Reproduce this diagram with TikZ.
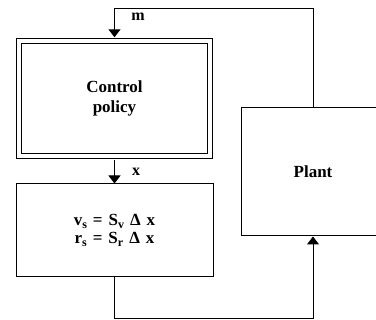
\documentclass[tikz,border=0pt]{standalone}
\usepackage{fontspec}
\setmainfont{Liberation Serif}
\usetikzlibrary{arrows.meta}
\newcommand{\sbs}[1]{\raisebox{-2.2pt}{\fontsize{12}{12}\selectfont #1}}
\begin{document}
\begin{tikzpicture}[x=1pt,y=-1pt,
  box/.style={draw,line width=1pt,rectangle,inner sep=0pt,align=center,
    font=\fontsize{17}{19.5}\selectfont\bfseries},
  arr/.style={line width=1pt,-{Triangle[width=12pt,length=8pt]}},
  lbl/.style={font=\fontsize{16}{19}\selectfont\bfseries,inner sep=0pt}]
\clip (0,0) rectangle (376,320);
\useasboundingbox (0,0) rectangle (376,320);
\node[box,double,double distance=4.5pt,minimum width=191pt,minimum height=115pt] (cp) at (114.5,98.5) {Control\\policy};
\node[box,minimum width=197pt,minimum height=93pt,font=\fontsize{17}{18}\selectfont\bfseries] (eq) at (114.5,230.5)
  {\spaceskip=6pt v\sbs{s} = S\sbs{v} Δ x\\ \spaceskip=6pt r\sbs{s} = S\sbs{r} Δ x};
\node[box,minimum width=144pt,minimum height=128pt] (plant) at (313,172) {Plant};
\coordinate (top) at (0,9);
\coordinate (bot) at (0,319);
\draw[arr,shorten >=3.2pt] (plant.north) -- (plant.north |- top) -| (cp.north);
\draw[arr,shorten <=3.2pt] (cp.south) -- (eq.north);
\draw[arr] (eq.south) -- (eq.south |- bot) -| (plant.south);
\node[lbl] (m) at (138,17) {m};
\node[lbl] (xl) at (136,172) {x};
\end{tikzpicture}
\end{document}
